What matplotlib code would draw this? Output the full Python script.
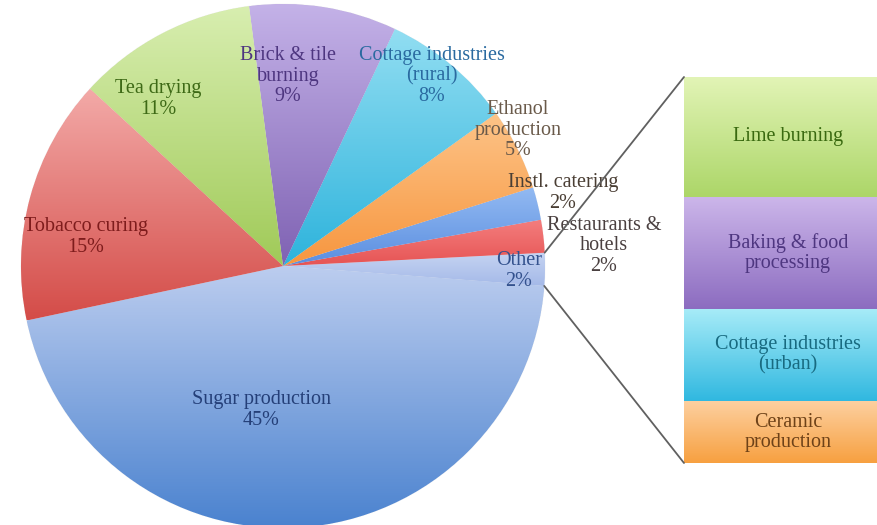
import matplotlib
matplotlib.use("Agg")
import matplotlib.pyplot as plt
import numpy as np
from matplotlib.colors import LinearSegmentedColormap
from matplotlib.patches import ConnectionPatch

plt.rcParams["font.family"] = ["Liberation Serif", "DejaVu Serif"]

# pie sectors, counter-clockwise starting from the sugar slice
sectors = ["Sugar production", "Other", "Restaurants &\nhotels", "Instl. catering",
           "Ethanol\nproduction", "Cottage industries\n(rural)", "Brick & tile\nburning",
           "Tea drying", "Tobacco curing"]
shares = [45, 2, 2, 2, 5, 8, 9, 11, 15]

# breakdown of "Other", bottom to top
other_parts = ["Ceramic\nproduction", "Cottage industries\n(urban)",
               "Baking & food\nprocessing", "Lime burning"]
other_values = [0.32, 0.48, 0.58, 0.62]

# (top colour, bottom colour, text colour)
pie_style = [
    ("#bccdef", "#4a82cf", "#243f78"),
    ("#c6d4f2", "#a4b9e8", "#34528e"),
    ("#f47e7e", "#e65454", "#4a4040"),
    ("#93baf2", "#5a8ee0", "#4a3e34"),
    ("#fdc488", "#f7963f", "#6a5a4a"),
    ("#92def2", "#2db3dc", "#2a6aa0"),
    ("#c4b2e8", "#7f62b3", "#4e3680"),
    ("#d8eeb0", "#a0ca58", "#3e6a16"),
    ("#f3aaa8", "#d44c48", "#7e1c1c"),
]
bar_style = [
    ("#fdd0a0", "#f7a040", "#6e4218"),
    ("#a8ecf8", "#30b8e0", "#186a80"),
    ("#ccb6ea", "#8c6cc0", "#4e3680"),
    ("#e2f4b6", "#acd668", "#3a6a10"),
]

# label anchor points (pixel-like coords, y up)
label_xy = [(261, 115), (519, 254), (604, 279), (563, 332), (518, 395),
            (432, 449), (288, 449), (158, 426), (86, 288)]


def shade(ax, patch, top, bottom, bbox):
    cmap = LinearSegmentedColormap.from_list("g", [bottom, top])
    grad = np.linspace(0, 1, 256).reshape(-1, 1)
    im = ax.imshow(grad, cmap=cmap, origin="lower", aspect="auto",
                   extent=(bbox.x0, bbox.x1, bbox.y0, bbox.y1),
                   zorder=patch.get_zorder() + 0.1, interpolation="bilinear")
    im.set_clip_path(patch)


fig = plt.figure(figsize=(8.77, 5.25), dpi=100)
fig.patch.set_facecolor("white")

ax = fig.add_axes([0, 0, 1, 1])
ax.set_xlim(0, 877)
ax.set_ylim(0, 525)
ax.set_aspect("equal")
ax.axis("off")

center = (283, 259)
radius = 262
wedges, _ = ax.pie(shares, colors=[s[1] for s in pie_style], startangle=192,
                   counterclock=True, center=center, radius=radius,
                   wedgeprops=dict(linewidth=0.6, edgecolor="#f4f4f4"))
for w, (top, bot, _) in zip(wedges, pie_style):
    shade(ax, w, top, bot, w.get_path().get_extents())
ax.set_xlim(0, 877)
ax.set_ylim(0, 525)

for name, val, (x, y), st in zip(sectors, shares, label_xy, pie_style):
    ax.text(x, y, f"{name}\n{val}%", ha="center", va="center", fontsize=14.5,
            color=st[2], linespacing=1.08, zorder=5)

# stacked bar for the "Other" breakdown
axb = fig.add_axes([684 / 877, 62 / 525, 208 / 877, 386 / 525])
total = sum(other_values)
bottoms = np.concatenate([[0], np.cumsum(other_values)[:-1]])
bars = axb.bar([0] * len(other_values), other_values, bottom=bottoms, width=1.0,
               color=[s[1] for s in bar_style], edgecolor="white", linewidth=2)
for b, (top, bot, _) in zip(bars, bar_style):
    shade(axb, b, top, bot, b.get_bbox())
for b, name, st in zip(bars, other_parts, bar_style):
    axb.text(0, b.get_y() + b.get_height() / 2, name, ha="center", va="center",
             fontsize=14.5, color=st[2], linespacing=1.08, zorder=5)
axb.set_xlim(-0.5, 0.5)
axb.set_ylim(0, total)
axb.axis("off")

# connector lines from the "Other" slice to the bar
other = wedges[1]
for ang, yb in [(other.theta2, total), (other.theta1, 0)]:
    px = center[0] + radius * np.cos(np.radians(ang))
    py = center[1] + radius * np.sin(np.radians(ang))
    con = ConnectionPatch(xyA=(-0.5, yb), coordsA=axb.transData,
                          xyB=(px, py), coordsB=ax.transData,
                          color="#606060", linewidth=1.3)
    fig.add_artist(con)

fig.savefig("out.png", dpi=100)
